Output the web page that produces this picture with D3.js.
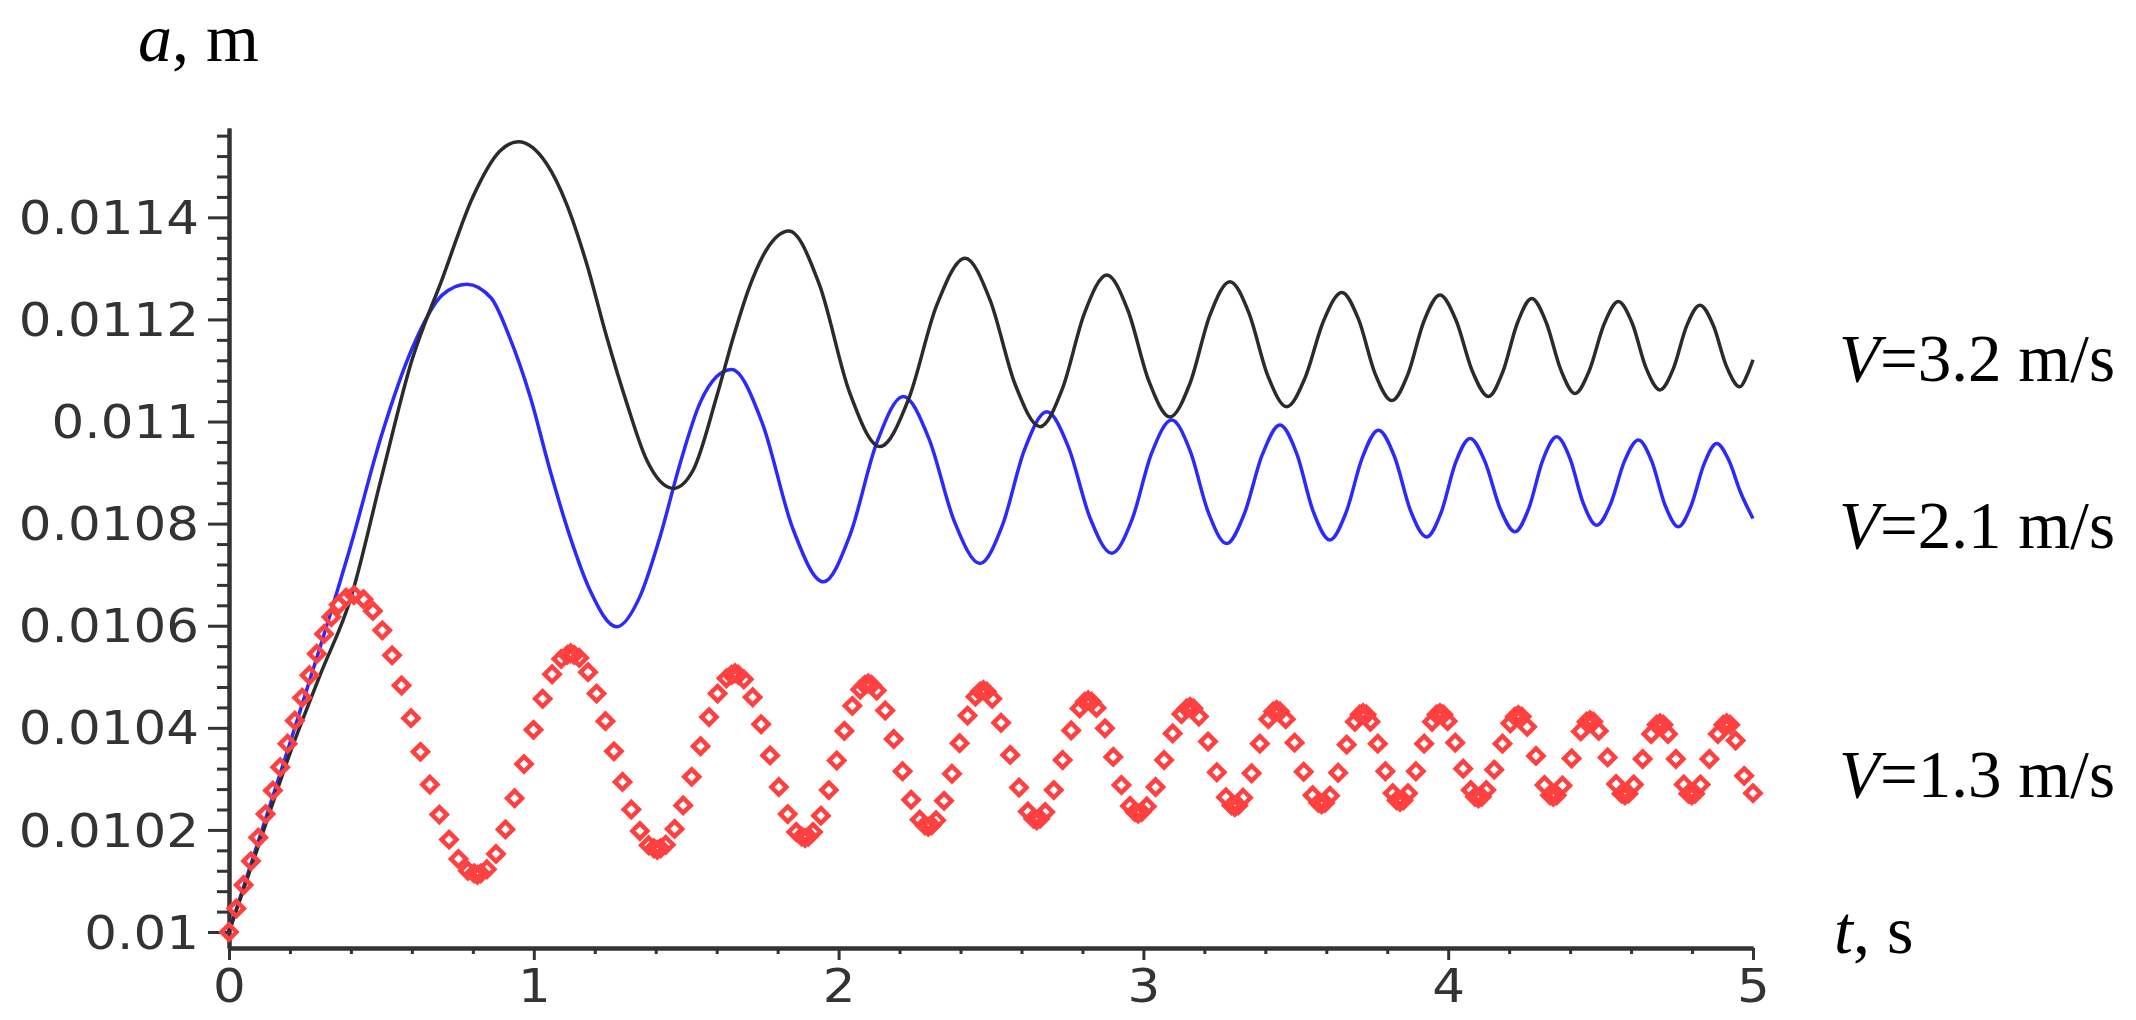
<!DOCTYPE html>
<html><head><meta charset="utf-8">
<script src="https://cdn.jsdelivr.net/npm/d3@7"></script>
<style>html,body{margin:0;padding:0;background:#fff;} svg{display:block;}</style>
</head><body>
<svg id="chart" width="2136" height="1020"></svg>
<script>
// ---- data ----
const tBlack = [0,0.1,0.2,0.3,0.4,0.5,0.6,0.7,0.8,0.889,0.949,1.042,1.107,1.173,1.239,1.305,1.37,1.458,1.523,1.6,1.655,1.704,1.763,1.837,
  1.937,2.036,2.136,2.229,2.322,2.415,2.497,2.579,2.661,2.734,2.807,2.880,2.949,3.018,3.087,3.153,3.218,3.284,
  3.346,3.408,3.470,3.530,3.591,3.651,3.706,3.760,3.815,3.868,3.920,3.973,4.026,4.079,4.132,4.179,4.227,4.274,
  4.321,4.369,4.416,4.463,4.511,4.558,4.604,4.649,4.695,4.739,4.782,4.826,4.870,4.913,4.957,4.98,5.0];
const vBlack = [0.01,0.010175,0.01035,0.010505,0.010655,0.01089,0.01112,0.01128,0.01144,0.01153,0.011548,0.011505,0.011427,0.01131,0.011166,0.011036,0.010925,0.010869,0.010905,0.011049,0.011166,0.011258,0.011336,0.011373,
  0.011268,0.011057,0.010951,0.011043,0.011228,0.011320,0.011238,0.011073,0.010990,0.011064,0.011213,0.011287,0.011218,0.011079,0.011009,0.011075,0.011208,0.011274,
  0.011213,0.011090,0.011029,0.011085,0.011197,0.011253,0.011200,0.011094,0.011041,0.011093,0.011196,0.011248,0.011198,0.011099,0.011049,0.011097,0.011193,0.011241,
  0.011195,0.011102,0.011055,0.011100,0.011190,0.011235,0.011192,0.011105,0.011062,0.011104,0.011187,0.011228,0.011188,0.011108,0.011068,0.011090,0.011121];

const tBlue = [0,0.1,0.2,0.3,0.4,0.5,0.6,0.7,0.78,0.86,0.92,0.988,1.053,1.119,1.184,1.272,1.348,1.414,1.48,1.545,1.6,1.649,
  1.749,1.850,1.950,2.037,2.125,2.212,2.296,2.380,2.464,2.537,2.610,2.683,2.754,2.825,2.896,2.962,3.027,3.093,
  3.153,3.213,3.273,3.331,3.390,3.448,3.503,3.557,3.612,3.665,3.718,3.771,3.824,3.876,3.929,3.977,4.024,4.072,
  4.121,4.170,4.219,4.265,4.310,4.356,4.400,4.443,4.487,4.533,4.578,4.624,4.668,4.711,4.755,4.797,4.839,4.881,4.92,4.96,5.0];
const vBlue = [0.01,0.010185,0.01037,0.01056,0.010758,0.010972,0.011142,0.011248,0.011269,0.011242,0.011166,0.011049,0.010905,0.010774,0.01067,0.010598,0.010657,0.010774,0.010918,0.011036,0.011088,0.011102,
  0.010998,0.010790,0.010686,0.010777,0.010958,0.011049,0.010967,0.010804,0.010722,0.010796,0.010945,0.011019,0.010950,0.010811,0.010742,0.010807,0.010938,0.011003,
  0.010943,0.010822,0.010761,0.010819,0.010935,0.010993,0.010937,0.010824,0.010768,0.010822,0.010929,0.010983,0.010931,0.010826,0.010774,0.010822,0.010919,0.010967,
  0.010921,0.010830,0.010784,0.010831,0.010924,0.010970,0.010927,0.010840,0.010797,0.010839,0.010922,0.010964,0.010922,0.010837,0.010794,0.010835,0.010916,0.010957,0.010925,0.010860,0.010810];

const tRed = [0,0.024,0.048,0.072,0.096,0.12,0.144,0.168,0.192,0.216,0.24,0.264,0.288,0.312,0.336,0.36,0.384,0.41,
  0.441,0.472,0.503,0.535,0.566,0.597,0.628,0.659,0.69,0.722,0.753,0.784,0.815,
  0.846,0.876,0.907,0.937,0.968,0.999,1.029,1.06,1.09,1.121,
  1.149,1.178,1.206,1.235,1.263,1.291,1.32,1.348,1.377,1.405,
  1.433,1.462,1.49,1.518,1.547,1.575,1.603,1.632,1.66,
  1.689,1.718,1.746,1.775,1.804,1.833,1.861,1.89,
  1.916,1.942,1.968,1.994,2.019,2.045,2.071,2.097,
  2.125,2.153,2.181,2.21,2.238,2.266,2.294,
  2.32,2.346,2.372,2.397,2.423,2.449,2.475,
  2.504,2.533,2.563,2.592,2.621,2.65,
  2.678,2.706,2.735,2.763,2.791,2.819,
  2.846,2.874,2.901,2.928,2.956,2.983,
  3.011,3.04,3.068,3.096,3.125,3.153,
  3.182,3.212,3.241,3.271,3.3,
  3.327,3.355,3.382,3.41,3.437,
  3.467,3.496,3.526,3.555,3.585,
  3.612,3.639,3.667,3.694,3.721,
  3.745,3.769,3.794,3.818,3.842,
  3.868,3.894,3.921,3.947,3.973,
  3.998,4.023,4.049,4.074,4.099,
  4.125,4.151,4.178,4.204,4.23,
  4.259,4.288,4.316,4.345,
  4.375,4.405,4.435,4.465,
  4.494,4.523,4.551,4.58,
  4.609,4.638,4.666,4.695,
  4.721,4.747,4.773,4.799,
  4.828,4.857,4.885,4.914,
  4.943,4.971,5];
const vRed = [0.01,0.010046,0.010092,0.010139,0.010185,0.010231,0.010277,0.010323,0.010369,0.010414,0.010459,0.010503,0.010545,0.010584,0.010617,0.010641,0.010655,0.01066,
  0.010652,0.010629,0.010591,0.010542,0.010483,0.010419,0.010353,0.010289,0.01023,0.010181,0.010143,0.01012,0.010112,
  0.010123,0.010153,0.010201,0.010262,0.010329,0.010396,0.010457,0.010505,0.010535,0.010546,
  0.010537,0.010509,0.010467,0.010413,0.010354,0.010294,0.01024,0.010198,0.01017,0.010161,
  0.010171,0.010202,0.010248,0.010304,0.010364,0.010421,0.010467,0.010497,0.010507,
  0.010495,0.01046,0.010407,0.010346,0.010284,0.010231,0.010196,0.010184,
  0.010196,0.010228,0.010278,0.010336,0.010394,0.010443,0.010475,0.010487,
  0.010473,0.010434,0.010378,0.010315,0.010259,0.01022,0.010206,
  0.010219,0.010257,0.01031,0.01037,0.010424,0.010461,0.010474,
  0.010457,0.01041,0.010347,0.010283,0.010236,0.010219,
  0.010235,0.010278,0.010337,0.010395,0.010438,0.010454,
  0.010439,0.010399,0.010343,0.010288,0.010247,0.010232,
  0.010246,0.010284,0.010337,0.010389,0.010427,0.010441,
  0.010422,0.010373,0.010313,0.010264,0.010245,
  0.010263,0.010311,0.010369,0.010417,0.010435,
  0.010417,0.010371,0.010314,0.010268,0.01025,
  0.010267,0.010312,0.010367,0.010412,0.010429,
  0.010412,0.010369,0.010315,0.010272,0.010255,
  0.010272,0.010315,0.010369,0.010412,0.010429,
  0.010413,0.010371,0.01032,0.010278,0.010262,
  0.010278,0.010318,0.010369,0.010409,0.010425,
  0.010402,0.010345,0.010288,0.010265,
  0.010287,0.01034,0.010393,0.010415,
  0.010394,0.010342,0.01029,0.010268,
  0.010289,0.010339,0.010388,0.010409,
  0.010388,0.010339,0.010289,0.010268,
  0.010289,0.010339,0.010388,0.010409,
  0.010375,0.010306,0.010272];
// extra red samples crowded around the extremes (the solid blobs)
const tRedExtra = [0.804,0.826,1.110,1.132,1.394,1.416,1.649,1.671,1.879,1.901,2.086,2.108,2.283,2.305,2.464,2.486,2.639,2.661,2.808,2.830,
  2.972,2.994,3.142,3.164,3.289,3.311,3.426,3.448,3.574,3.596,3.710,3.732,3.831,3.853,3.962,3.984,4.088,4.110,4.219,4.241,
  4.334,4.356,4.454,4.476,4.569,4.591,4.684,4.706,4.788,4.810,4.903,4.925];
const vRedExtra = [0.010115,0.010115,0.010543,0.010543,0.010164,0.010164,0.010504,0.010504,0.010187,0.010187,0.010484,0.010484,0.010209,0.010209,0.010471,0.010471,0.010222,0.010222,0.010451,0.010451,
  0.010235,0.010235,0.010438,0.010438,0.010248,0.010248,0.010432,0.010432,0.010253,0.010253,0.010426,0.010426,0.010258,0.010258,0.010426,0.010426,0.010265,0.010265,0.010422,0.010422,
  0.010268,0.010268,0.010412,0.010412,0.010271,0.010271,0.010406,0.010406,0.010271,0.010271,0.010406,0.010406];

const yTickValues = [0.01,0.0102,0.0104,0.0106,0.0108,0.011,0.0112,0.0114];
const yTickLabels = ["0.01","0.0102","0.0104","0.0106","0.0108","0.011","0.0112","0.0114"];
const xTickValues = [0,1,2,3,4,5];
const xTickLabels = ["0","1","2","3","4","5"];
const seriesNames = ["=3.2 m/s","=2.1 m/s","=1.3 m/s"];

// ---- drawing ----
const svg = d3.select("#chart");
const x = d3.scaleLinear().domain([0,5]).range([229,1753]);
const y = d3.scaleLinear().domain([0.0099687,0.011575]).range([948,128]);

const axisColor = "#333";
const tickFont = "'DejaVu Sans', Verdana, sans-serif";
const serif = "'Liberation Serif','Times New Roman',serif";
const stretch = 1.12;

const yMinor = d3.range(0,40).filter(i => i % 5 !== 0).map(i => 0.01 + i*0.00004).filter(v => v <= 0.011575);
const xMinor = d3.range(0,26).filter(i => i % 5 !== 0).map(i => i*0.2);

const gyMinor = svg.append("g").attr("transform","translate(229,0)")
  .call(d3.axisLeft(y).tickValues(yMinor).tickSize(12).tickSizeOuter(0).tickFormat(""));
const gxMinor = svg.append("g").attr("transform","translate(0,948)")
  .call(d3.axisBottom(x).tickValues(xMinor).tickSize(6).tickSizeOuter(0).tickFormat(""));
const gy = svg.append("g").attr("transform","translate(229,0)")
  .call(d3.axisLeft(y).tickValues(yTickValues).tickSize(21).tickSizeOuter(0).tickPadding(9)
    .tickFormat((d,i) => yTickLabels[i]));
const gx = svg.append("g").attr("transform","translate(0,948)")
  .call(d3.axisBottom(x).tickValues(xTickValues).tickSize(12).tickSizeOuter(0).tickPadding(9)
    .tickFormat((d,i) => xTickLabels[i]));

[gyMinor,gxMinor,gy,gx].forEach(g => {
  g.selectAll("path.domain").attr("stroke",axisColor).attr("stroke-width",4);
  g.selectAll(".tick line").attr("stroke",axisColor).attr("stroke-width",3);
  g.selectAll(".tick text").attr("fill",axisColor)
    .style("font-family",tickFont).style("font-size","46px");
});
gy.selectAll(".tick text").attr("transform",`scale(${stretch},1)`).attr("x",-30/stretch).attr("dy","0.35em");
gx.selectAll(".tick text").attr("transform",`scale(${stretch},1)`).attr("x",0);

// curves
const line = d3.line().x(d => x(d[0])).y(d => y(d[1])).curve(d3.curveMonotoneX);
svg.append("path").datum(d3.zip(tBlue,vBlue)).attr("d",line)
  .attr("fill","none").attr("stroke","#2a2aff").attr("stroke-width",3.5).attr("stroke-linejoin","round");
svg.append("path").datum(d3.zip(tBlack,vBlack)).attr("d",line)
  .attr("fill","none").attr("stroke","#2b2b2b").attr("stroke-width",3.5).attr("stroke-linejoin","round");

// red diamonds
const diamond = "M0,-7.5L7.5,0L0,7.5L-7.5,0Z";
svg.append("g").selectAll("path").data(d3.zip(tRed,vRed).concat(d3.zip(tRedExtra,vRedExtra))).join("path")
  .attr("d",diamond)
  .attr("transform",d => `translate(${x(d[0])},${y(d[1])})`)
  .attr("fill","none").attr("stroke","#ff4040").attr("stroke-width",4.5);

// axis titles
const title = svg.append("text").attr("x",138).attr("y",61)
  .style("font-family",serif).style("font-size","68px").attr("fill","#000");
title.append("tspan").style("font-style","italic").text("a");
title.append("tspan").text(", m");

const xt = svg.append("text").attr("x",1834).attr("y",953)
  .style("font-family",serif).style("font-size","68px").attr("fill","#000");
xt.append("tspan").style("font-style","italic").text("t");
xt.append("tspan").text(", s");

// series labels
const labelY = [381,548,797];
seriesNames.forEach((s,i) => {
  const t = svg.append("text").attr("x",1839).attr("y",labelY[i])
    .style("font-family",serif).style("font-size","67px").attr("fill","#000");
  t.append("tspan").style("font-style","italic").text("V");
  t.append("tspan").text(s);
});
</script>
</body></html>
